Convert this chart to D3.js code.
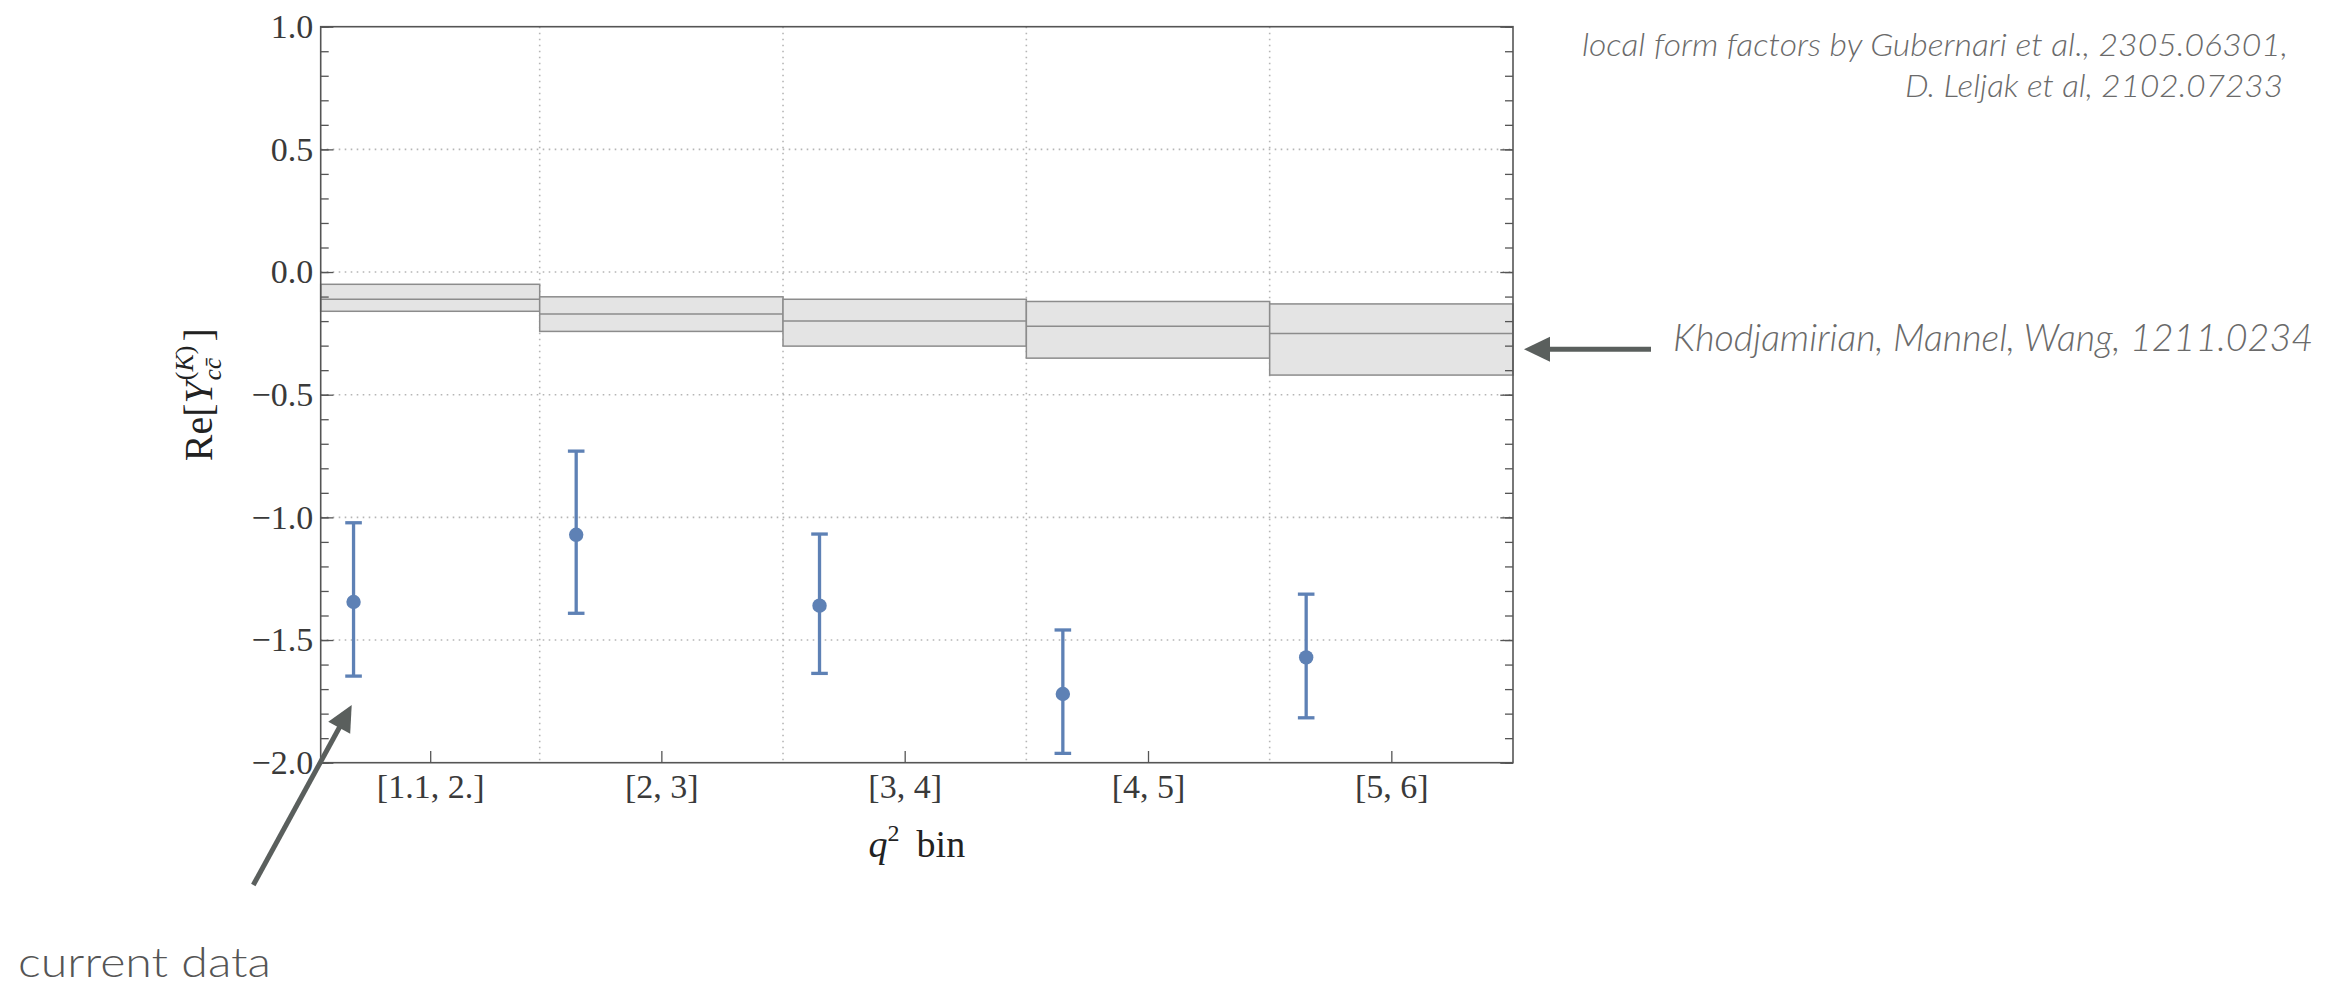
<!DOCTYPE html>
<html>
  <head>
    <meta charset="utf-8">
    <title>Re[Y] per q2 bin</title>
    <script src="https://d3js.org/d3.v7.min.js"></script>
    <style>
      body { margin: 0; background: #fff; }
      .tick text { font-family: "Liberation Serif", serif; font-size: 34px; fill: #3a3a3a; }
      .tick line { stroke: #555; stroke-width: 1.3; }
      .note { font-family: Lato, "Open Sans", sans-serif; font-style: italic; font-weight: 300; fill: #6a6a6a; }
    </style>
  </head>
  <body>
    <div id="chart"></div>
    <script>
      // q^2 bins
      const binLabels = ["[1.1, 2.]", "[2, 3]", "[3, 4]", "[4, 5]", "[5, 6]"];
      const binLo = [1.1, 2, 3, 4, 5];
      const binHi = [2, 3, 4, 5, 6];

      // current data (points with error bars)
      const pointX = [1.235, 2.15, 3.15, 4.15, 5.15];
      const pointY = [-1.345, -1.071, -1.36, -1.72, -1.571];
      const errHi = [-1.022, -0.73, -1.068, -1.459, -1.313];
      const errLo = [-1.647, -1.391, -1.636, -1.962, -1.817];

      // Khodjamirian, Mannel, Wang band
      const bandMid = [-0.111, -0.171, -0.2, -0.221, -0.251];
      const bandHi = [-0.05, -0.101, -0.111, -0.12, -0.13];
      const bandLo = [-0.16, -0.242, -0.302, -0.351, -0.42];

      const yTicks = [1.0, 0.5, 0.0, -0.5, -1.0, -1.5, -2.0];

      const W = 2329, H = 988;
      const plot = { left: 320.7, right: 1513, top: 26.7, bottom: 762.7 };
      const blue = "#5e81b5";
      const arrowCol = "#5a5f5d";

      const svg = d3.select("#chart").append("svg")
        .attr("width", W).attr("height", H);

      const x = d3.scaleLinear().domain([1.1, 6]).range([plot.left, plot.right]);
      const y = d3.scaleLinear().domain([-2, 1]).range([plot.bottom, plot.top]);

      // grid lines (dotted)
      const grid = svg.append("g")
        .attr("stroke", "#b5b5b5").attr("stroke-width", 1.6)
        .attr("stroke-dasharray", "1.6,4.4");
      grid.selectAll(".gy").data(yTicks.filter(v => v < 1 && v > -2)).enter().append("line")
        .attr("x1", plot.left).attr("x2", plot.right)
        .attr("y1", d => y(d)).attr("y2", d => y(d));
      grid.selectAll(".gx").data(binLo.slice(1)).enter().append("line")
        .attr("y1", plot.top).attr("y2", plot.bottom)
        .attr("x1", d => x(d)).attr("x2", d => x(d));

      // band
      const band = svg.append("g");
      binLo.forEach((lo, i) => {
        band.append("rect")
          .attr("x", x(lo)).attr("width", x(binHi[i]) - x(lo))
          .attr("y", y(bandHi[i])).attr("height", y(bandLo[i]) - y(bandHi[i]))
          .attr("fill", "#e4e4e4").attr("stroke", "#8c8c8c").attr("stroke-width", 1.5);
      });
      binLo.forEach((lo, i) => {
        band.append("line")
          .attr("x1", x(lo)).attr("x2", x(binHi[i]))
          .attr("y1", y(bandMid[i])).attr("y2", y(bandMid[i]))
          .attr("stroke", "#8c8c8c").attr("stroke-width", 1.5);
      });

      // error bars
      const pts = svg.append("g").attr("stroke", blue).attr("stroke-width", 3.3);
      pointX.forEach((px, i) => {
        pts.append("line").attr("x1", x(px)).attr("x2", x(px))
          .attr("y1", y(errHi[i])).attr("y2", y(errLo[i]));
        [errHi[i], errLo[i]].forEach(v => {
          pts.append("line").attr("x1", x(px) - 8.3).attr("x2", x(px) + 8.3)
            .attr("y1", y(v)).attr("y2", y(v));
        });
        pts.append("circle").attr("cx", x(px)).attr("cy", y(pointY[i]))
          .attr("r", 7.2).attr("fill", blue).attr("stroke", "none");
      });

      // frame
      svg.append("rect")
        .attr("x", plot.left).attr("y", plot.top)
        .attr("width", plot.right - plot.left).attr("height", plot.bottom - plot.top)
        .attr("fill", "none").attr("stroke", "#555").attr("stroke-width", 1.6);

      // axes
      const minor = d3.range(-20, 11).map(d => d / 10);
      const leftMinor = svg.append("g").attr("transform", `translate(${plot.left},0)`)
        .call(d3.axisLeft(y).tickValues(minor).tickSize(-8).tickFormat(""));
      const leftMajor = svg.append("g").attr("transform", `translate(${plot.left},0)`)
        .call(d3.axisLeft(y).tickValues(yTicks).tickSize(-12.7).tickPadding(7.5).tickFormat(d3.format(".1f")));
      const rightMinor = svg.append("g").attr("transform", `translate(${plot.right},0)`)
        .call(d3.axisRight(y).tickValues(minor).tickSize(-8).tickFormat(""));
      const rightMajor = svg.append("g").attr("transform", `translate(${plot.right},0)`)
        .call(d3.axisRight(y).tickValues(yTicks).tickSize(-12.7).tickFormat(""));
      const centers = binLo.map((lo, i) => (lo + binHi[i]) / 2);
      const bottom = svg.append("g").attr("transform", `translate(0,${plot.bottom})`)
        .call(d3.axisBottom(x).tickValues(centers).tickSize(-11.7).tickPadding(11)
          .tickFormat((d, i) => binLabels[i]));
      [leftMinor, leftMajor, rightMinor, rightMajor, bottom].forEach(g => g.select(".domain").remove());
      bottom.selectAll(".tick line").attr("stroke", "#888");

      // x-axis label
      const xl = svg.append("text")
        .attr("x", (plot.left + plot.right) / 2).attr("y", 857)
        .attr("text-anchor", "middle")
        .style("font-family", "Liberation Serif, serif").style("font-size", "38px").attr("fill", "#222");
      xl.append("tspan").style("font-style", "italic").text("q");
      xl.append("tspan").attr("dy", -16).style("font-size", "24px").text("2");
      xl.append("tspan").attr("dy", 16).text("\u2009 bin");

      // y-axis label
      const yl = svg.append("g");
      const ylt = yl.append("text")
        .style("font-family", "Liberation Serif, serif").style("font-size", "40px").attr("fill", "#222");
      ylt.append("tspan").attr("x", 0).attr("y", 0).text("Re[");
      ylt.append("tspan").style("font-style", "italic").text("Y");
      const sub = yl.append("text").style("font-family", "Liberation Serif, serif")
        .style("font-size", "25px").style("font-style", "italic").attr("fill", "#222");
      const sup = yl.append("text").style("font-family", "Liberation Serif, serif")
        .style("font-size", "26px").attr("fill", "#222");
      const close = yl.append("text").style("font-family", "Liberation Serif, serif")
        .style("font-size", "40px").attr("fill", "#222").text("]");
      const w0 = ylt.node().getComputedTextLength();
      sub.attr("x", w0 + 1).attr("y", 9).text("cc\u0304");
      sup.attr("x", w0 + 1).attr("y", -19);
      sup.append("tspan").text("(");
      sup.append("tspan").style("font-style", "italic").text("K");
      sup.append("tspan").text(")");
      const w1 = Math.max(sub.node().getComputedTextLength(), sup.node().getComputedTextLength());
      close.attr("x", w0 + w1 + 5).attr("y", 0);
      const total = w0 + w1 + 5 + close.node().getComputedTextLength();
      yl.attr("transform", `translate(211.5,${(plot.top + plot.bottom) / 2 + total / 2}) rotate(-90)`);

      // annotations
      svg.append("text").attr("class", "note")
        .attr("x", 2288).attr("y", 56).attr("text-anchor", "end")
        .style("font-size", "32px")
        .attr("textLength", 706).attr("lengthAdjust", "spacingAndGlyphs")
        .text("local form factors by Gubernari et al., 2305.06301,");
      svg.append("text").attr("class", "note")
        .attr("x", 2283).attr("y", 97).attr("text-anchor", "end")
        .style("font-size", "32px")
        .attr("textLength", 378).attr("lengthAdjust", "spacingAndGlyphs")
        .text("D. Leljak et al, 2102.07233");
      svg.append("text").attr("class", "note")
        .attr("x", 1673).attr("y", 351)
        .style("font-size", "37px")
        .attr("textLength", 640).attr("lengthAdjust", "spacingAndGlyphs")
        .text("Khodjamirian, Mannel, Wang, 1211.0234");
      svg.append("text")
        .attr("x", 18).attr("y", 977)
        .style("font-family", "Lato, sans-serif").style("font-weight", 300).style("font-size", "42px")
        .attr("fill", "#555")
        .attr("textLength", 253).attr("lengthAdjust", "spacingAndGlyphs")
        .text("current data");

      // arrows
      function arrow(x1, y1, x2, y2) {
        const dx = x2 - x1, dy = y2 - y1, len = Math.hypot(dx, dy);
        const ux = dx / len, uy = dy / len, hl = 26, hw = 12.5;
        const bx = x2 - ux * hl, by = y2 - uy * hl;
        svg.append("line").attr("x1", x1).attr("y1", y1).attr("x2", bx + ux * 2).attr("y2", by + uy * 2)
          .attr("stroke", arrowCol).attr("stroke-width", 5);
        svg.append("path")
          .attr("d", `M${x2},${y2}L${bx - uy * hw},${by + ux * hw}L${bx + uy * hw},${by - ux * hw}Z`)
          .attr("fill", arrowCol);
      }
      arrow(1651, 349.3, 1524, 349.3);
      arrow(253.3, 885, 351.7, 705);
    </script>
  </body>
</html>
